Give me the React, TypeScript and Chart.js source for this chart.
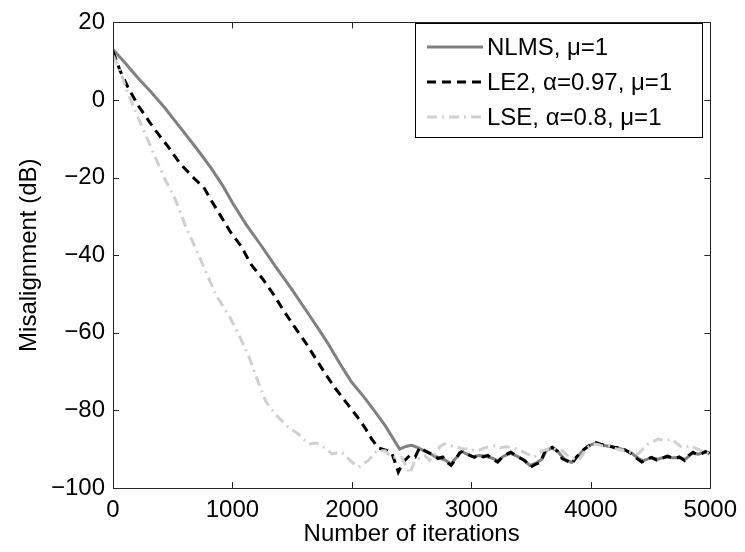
import React, { useEffect, useRef } from "react";
import { Chart, registerables } from "chart.js";

Chart.register(...registerables);

const xTicks = [0, 1000, 2000, 3000, 4000, 5000];
const yTicks = [20, 0, -20, -40, -60, -80, -100];

const nlmsLabel = "NLMS, \u03bc=1";
const le2Label = "LE2, \u03b1=0.97, \u03bc=1";
const lseLabel = "LSE, \u03b1=0.8, \u03bc=1";

const nlmsX = [0, 100, 200, 320, 433, 560, 700, 820, 917, 1000, 1112, 1240, 1362, 1490, 1611, 1720, 1805, 1900, 1997, 2100, 2193, 2280, 2360, 2400, 2450, 2500, 2554, 2600, 2640, 2690, 2730, 2780, 2830, 2870, 2920, 2970, 3020, 3070, 3120, 3180, 3220, 3270, 3330, 3380, 3430, 3490, 3540, 3590, 3630, 3680, 3730, 3780, 3840, 3890, 3940, 3990, 4040, 4100, 4160, 4220, 4280, 4340, 4400, 4440, 4500, 4560, 4620, 4680, 4740, 4790, 4850, 4900, 4950, 5000];
const nlmsY = [13, 9.6, 6, 2, -2, -7, -12.5, -17.5, -22, -26.5, -32, -37.5, -43, -48.5, -54, -59, -63, -68, -72.7, -76.5, -80.3, -84, -88, -90, -89.3, -89.0, -89.6, -90.4, -90.9, -91.8, -92.2, -92.8, -93.8, -92.3, -90.6, -91.4, -91.9, -91.6, -91.8, -92.4, -93.0, -91.8, -91.0, -91.8, -92.6, -94.2, -93.6, -92.6, -90.2, -89.7, -90.8, -92.6, -93.4, -91.8, -90.2, -89.0, -88.4, -89.0, -89.3, -89.6, -90.2, -91.0, -92.4, -93.0, -92.2, -92.6, -92.0, -92.2, -92.2, -92.6, -91.0, -91.3, -90.8, -91.0];

const le2X = [0, 60, 125, 208, 349, 458, 557, 682, 760, 821, 904, 987, 1071, 1154, 1250, 1348, 1431, 1514, 1611, 1694, 1778, 1861, 1958, 2041, 2110, 2166, 2221, 2277, 2332, 2360, 2388, 2429, 2485, 2530, 2568, 2600, 2637, 2680, 2721, 2760, 2800, 2830, 2870, 2900, 2929, 2960, 3000, 3026, 3060, 3100, 3137, 3180, 3220, 3260, 3300, 3330, 3370, 3414, 3450, 3497, 3530, 3580, 3622, 3650, 3677, 3720, 3760, 3800, 3843, 3880, 3927, 3980, 4035, 4090, 4148, 4200, 4243, 4300, 4343, 4390, 4426, 4470, 4509, 4550, 4592, 4640, 4700, 4740, 4784, 4820, 4856, 4890, 4925, 4960, 5000];
const le2Y = [12.5, 7.5, 3.3, -1.3, -7.6, -11.9, -16.2, -20.3, -22.5, -25.8, -30, -34.2, -37.6, -42.3, -46, -50.3, -54.4, -58.2, -62.5, -66.5, -70.6, -74.3, -78.2, -81.5, -84.5, -87.4, -89.7, -90.2, -90.8, -93.3, -95.9, -93.3, -91.6, -92.0, -89.5, -90.2, -90.8, -91.5, -92.4, -92.0, -93.5, -94.2, -92.5, -91.0, -90.4, -91.2, -91.8, -92.1, -91.5, -92.0, -91.6, -92.6, -93.3, -92.0, -91.2, -90.8, -91.6, -92.4, -93.0, -94.6, -94.0, -93.3, -90.0, -89.8, -89.5, -90.5, -92.4, -93.0, -93.7, -92.0, -90.4, -89.2, -88.2, -88.8, -89.1, -89.6, -89.5, -90.4, -91.2, -92.5, -93.3, -92.6, -92.1, -92.8, -92.4, -91.8, -92.4, -92.0, -92.9, -91.6, -90.8, -91.4, -91.2, -90.6, -91.2];

const lseX = [0, 58, 114, 183, 266, 349, 433, 516, 557, 613, 696, 779, 863, 973, 1057, 1140, 1209, 1279, 1362, 1459, 1556, 1639, 1700, 1750, 1833, 1916, 1999, 2055, 2138, 2207, 2277, 2332, 2415, 2485, 2527, 2610, 2650, 2700, 2740, 2776, 2820, 2860, 2887, 2930, 2970, 3010, 3053, 3100, 3150, 3192, 3240, 3290, 3330, 3380, 3420, 3442, 3480, 3525, 3560, 3594, 3640, 3680, 3720, 3760, 3800, 3850, 3899, 3940, 3975, 4010, 4060, 4100, 4148, 4200, 4250, 4285, 4340, 4398, 4440, 4481, 4520, 4565, 4620, 4675, 4720, 4759, 4800, 4842, 4880, 4925, 4960, 5000];
const lseY = [11.5, 7.6, 2.5, -2.6, -8.5, -14.4, -20.3, -25.3, -28.3, -33, -38.5, -44.4, -50.3, -55.7, -60.8, -66.3, -72.2, -77.7, -81.1, -84.1, -86.2, -88.7, -88.4, -89.1, -91.2, -90.8, -93.3, -94.6, -92.9, -90.4, -90.4, -92.1, -92.1, -96.3, -92.9, -91.6, -92.9, -91.0, -89.2, -88.6, -89.0, -89.4, -89.5, -90.0, -89.8, -90.2, -90.4, -89.8, -89.3, -89.1, -89.6, -89.4, -89.5, -90.0, -90.5, -90.8, -91.4, -92.1, -91.0, -90.4, -90.0, -89.8, -90.2, -90.4, -91.5, -92.4, -92.9, -91.0, -89.5, -88.6, -88.8, -89.2, -89.1, -89.8, -90.2, -90.4, -90.8, -91.2, -89.8, -88.6, -88.0, -87.4, -87.8, -87.4, -88.5, -89.5, -89.4, -89.1, -89.8, -90.4, -90.8, -91.2];

const FONT = "'Liberation Sans', Arial, Helvetica, sans-serif";

function pts(xs: number[], ys: number[]) {
  return xs.map((x, i) => ({ x, y: ys[i] }));
}

const boxPlugin = {
  id: "matlabBox",
  afterDatasetsDraw(chart: any) {
    const ctx = chart.ctx;
    const { left, right, top, bottom } = chart.chartArea;
    const xs = chart.scales.x;
    const ys = chart.scales.y;
    ctx.save();
    ctx.strokeStyle = "#262626";
    ctx.lineWidth = 1;
    ctx.beginPath();
    ctx.rect(Math.round(left) + 0.5, Math.round(top) + 0.5, Math.round(right - left), Math.round(bottom - top));
    ctx.stroke();
    const tl = 6;
    ctx.beginPath();
    xTicks.forEach((v) => {
      const p = Math.round(xs.getPixelForValue(v)) + 0.5;
      ctx.moveTo(p, bottom);
      ctx.lineTo(p, bottom - tl);
      ctx.moveTo(p, top);
      ctx.lineTo(p, top + tl);
    });
    yTicks.forEach((v) => {
      const p = Math.round(ys.getPixelForValue(v)) + 0.5;
      ctx.moveTo(left, p);
      ctx.lineTo(left + tl, p);
      ctx.moveTo(right, p);
      ctx.lineTo(right - tl, p);
    });
    ctx.stroke();

    // legend
    const bx = 415, by = 23, bw = 287, bh = 114;
    ctx.fillStyle = "#ffffff";
    ctx.fillRect(bx, by, bw, bh);
    ctx.strokeStyle = "#000000";
    ctx.lineWidth = 1;
    ctx.strokeRect(bx + 0.5, by + 0.5, bw, bh);
    const rows = [47, 82, 117];
    chart.data.datasets.forEach((ds: any, i: number) => {
      const y = rows[i];
      ctx.save();
      ctx.strokeStyle = ds.borderColor;
      ctx.lineWidth = ds.borderWidth;
      ctx.setLineDash(ds.borderDash || []);
      ctx.beginPath();
      ctx.moveTo(427, y);
      ctx.lineTo(483, y);
      ctx.stroke();
      ctx.restore();
      ctx.fillStyle = "#000000";
      ctx.font = `24px ${FONT}`;
      ctx.textBaseline = "middle";
      ctx.textAlign = "left";
      ctx.fillText(ds.label, 487, y + 1);
    });
    ctx.restore();
  },
};

export default function App() {
  const ref = useRef<HTMLCanvasElement | null>(null);
  useEffect(() => {
    if (!ref.current) return;
    const chart = new Chart(ref.current, {
      type: "line",
      data: {
        datasets: [
          {
            label: nlmsLabel,
            data: pts(nlmsX, nlmsY),
            borderColor: "#808080",
            borderWidth: 3,
            pointRadius: 0,
            tension: 0,
            order: 3,
          },
          {
            label: le2Label,
            data: pts(le2X, le2Y),
            borderColor: "#000000",
            borderWidth: 3,
            borderDash: [9, 6],
            pointRadius: 0,
            tension: 0,
            order: 2,
          },
          {
            label: lseLabel,
            data: pts(lseX, lseY),
            borderColor: "#d0d0d0",
            borderWidth: 3,
            borderDash: [10, 5, 2, 5],
            pointRadius: 0,
            tension: 0,
            order: 1,
          },
        ],
      },
      options: {
        responsive: false,
        animation: false,
        layout: { padding: { left: 0, top: 14, right: 31, bottom: 0 } },
        plugins: { legend: { display: false }, tooltip: { enabled: false } },
        scales: {
          x: {
            type: "linear",
            min: 0,
            max: 5000,
            afterBuildTicks: (s: any) => {
              s.ticks = xTicks.map((v) => ({ value: v }));
            },
            afterFit: (s: any) => {
              s.height = 64;
            },
            grid: { display: false, drawTicks: false },
            border: { display: false },
            ticks: {
              autoSkip: false,
              maxRotation: 0,
              padding: 8,
              color: "#000000",
              font: { family: FONT, size: 24 },
              callback: (v: any) => String(v),
            },
            title: {
              display: true,
              text: "Number of iterations",
              color: "#000000",
              font: { family: FONT, size: 24 },
              padding: { top: 0, bottom: 3 },
            },
          },
          y: {
            type: "linear",
            min: -100,
            max: 20,
            afterBuildTicks: (s: any) => {
              s.ticks = yTicks.map((v) => ({ value: v }));
            },
            afterFit: (s: any) => {
              s.width = 113;
            },
            grid: { display: false, drawTicks: false },
            border: { display: false },
            ticks: {
              autoSkip: false,
              padding: 8,
              color: "#000000",
              font: { family: FONT, size: 24 },
              callback: (v: any) => (v < 0 ? "\u2212" + Math.abs(v) : String(v)),
            },
            title: {
              display: true,
              text: "Misalignment (dB)",
              color: "#000000",
              font: { family: FONT, size: 24 },
              padding: { top: 15, bottom: 0 },
            },
          },
        },
      },
      plugins: [boxPlugin],
    });
    return () => chart.destroy();
  }, []);
  return (
    <div style={{ position: "fixed", left: 0, top: 0, width: 745, height: 552, background: "#fff" }}>
      <canvas ref={ref} width={745} height={552} style={{ width: 745, height: 552, display: "block" }} />
    </div>
  );
}
